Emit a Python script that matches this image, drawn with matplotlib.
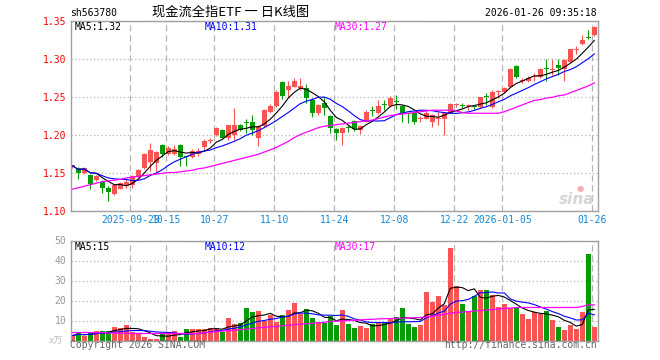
import matplotlib
matplotlib.use('Agg')
import matplotlib.pyplot as plt
import numpy as np
import pandas as pd

plt.rcParams['font.family'] = ['DejaVu Sans Mono']

# daily candles 2025-09-15 .. 2026-01-26
opens = [1.159, 1.157, 1.151, 1.148, 1.141, 1.138, 1.131, 1.123, 1.130, 1.133,
         1.134, 1.145, 1.157, 1.165, 1.163, 1.187, 1.176, 1.175, 1.187, 1.172,
         1.172, 1.175, 1.185, 1.192, 1.200, 1.207, 1.197, 1.200, 1.213, 1.217,
         1.217, 1.196, 1.212, 1.231, 1.238, 1.270, 1.260, 1.264, 1.262, 1.262,
         1.247, 1.229, 1.242, 1.226, 1.208, 1.203, 1.210, 1.219, 1.207, 1.218,
         1.233, 1.229, 1.241, 1.238, 1.245, 1.239, 1.229, 1.230, 1.222, 1.222,
         1.217, 1.221, 1.222, 1.230, 1.240, 1.240, 1.238, 1.238, 1.237, 1.251,
         1.237, 1.257, 1.257, 1.264, 1.291, 1.272, 1.271, 1.277, 1.277, 1.288,
         1.286, 1.293, 1.287, 1.297, 1.312, 1.320, 1.329, 1.332]
highs = [1.161, 1.158, 1.158, 1.149, 1.148, 1.141, 1.133, 1.136, 1.139, 1.142,
         1.148, 1.156, 1.177, 1.190, 1.179, 1.188, 1.186, 1.187, 1.188, 1.173,
         1.182, 1.183, 1.195, 1.197, 1.211, 1.208, 1.214, 1.236, 1.215, 1.221,
         1.227, 1.213, 1.235, 1.241, 1.260, 1.271, 1.272, 1.276, 1.276, 1.268,
         1.249, 1.241, 1.250, 1.227, 1.209, 1.211, 1.214, 1.220, 1.213, 1.233,
         1.238, 1.246, 1.247, 1.252, 1.253, 1.240, 1.230, 1.231, 1.226, 1.232,
         1.228, 1.231, 1.231, 1.242, 1.243, 1.243, 1.241, 1.240, 1.251, 1.256,
         1.259, 1.260, 1.263, 1.288, 1.292, 1.276, 1.278, 1.282, 1.288, 1.301,
         1.300, 1.300, 1.300, 1.313, 1.317, 1.332, 1.338, 1.344]
lows = [1.157, 1.142, 1.149, 1.129, 1.140, 1.124, 1.114, 1.121, 1.129, 1.131,
        1.131, 1.144, 1.156, 1.153, 1.151, 1.171, 1.174, 1.174, 1.160, 1.160,
        1.170, 1.173, 1.181, 1.190, 1.199, 1.196, 1.194, 1.194, 1.206, 1.203,
        1.200, 1.186, 1.211, 1.230, 1.237, 1.248, 1.250, 1.263, 1.259, 1.243,
        1.224, 1.227, 1.227, 1.203, 1.194, 1.187, 1.205, 1.206, 1.202, 1.217,
        1.225, 1.228, 1.233, 1.237, 1.234, 1.217, 1.216, 1.215, 1.217, 1.221,
        1.211, 1.213, 1.200, 1.229, 1.237, 1.236, 1.233, 1.234, 1.236, 1.240,
        1.236, 1.249, 1.256, 1.263, 1.276, 1.269, 1.270, 1.271, 1.276, 1.271,
        1.279, 1.279, 1.271, 1.296, 1.307, 1.319, 1.327, 1.331]
closes = [1.160, 1.150, 1.157, 1.136, 1.147, 1.131, 1.126, 1.135, 1.137, 1.139,
          1.146, 1.154, 1.176, 1.181, 1.178, 1.175, 1.183, 1.182, 1.172, 1.171,
          1.179, 1.180, 1.193, 1.193, 1.210, 1.197, 1.213, 1.213, 1.207, 1.216,
          1.207, 1.212, 1.233, 1.238, 1.257, 1.252, 1.265, 1.271, 1.265, 1.249,
          1.230, 1.240, 1.236, 1.209, 1.203, 1.210, 1.209, 1.208, 1.212, 1.231,
          1.232, 1.238, 1.240, 1.249, 1.244, 1.229, 1.228, 1.217, 1.223, 1.229,
          1.227, 1.223, 1.230, 1.241, 1.241, 1.238, 1.239, 1.237, 1.250, 1.250,
          1.257, 1.258, 1.262, 1.287, 1.277, 1.273, 1.276, 1.278, 1.287, 1.287,
          1.287, 1.288, 1.299, 1.313, 1.314, 1.326, 1.328, 1.343]
ma30 = [1.129, 1.131, 1.133, 1.135, 1.137, 1.139, 1.140, 1.141, 1.142, 1.144,
        1.145, 1.146, 1.147, 1.148, 1.149, 1.150, 1.151, 1.151, 1.152, 1.153,
        1.154, 1.156, 1.157, 1.159, 1.161, 1.163, 1.165, 1.167, 1.169, 1.171,
        1.173, 1.175, 1.178, 1.181, 1.184, 1.188, 1.192, 1.197, 1.201, 1.204,
        1.207, 1.210, 1.212, 1.213, 1.214, 1.215, 1.216, 1.217, 1.218, 1.219,
        1.220, 1.222, 1.224, 1.226, 1.227, 1.228, 1.229, 1.230, 1.231, 1.232,
        1.233, 1.233, 1.233, 1.233, 1.232, 1.230, 1.229, 1.229, 1.229, 1.229,
        1.229, 1.229, 1.231, 1.234, 1.237, 1.240, 1.243, 1.246, 1.247, 1.249,
        1.250, 1.252, 1.253, 1.256, 1.259, 1.262, 1.265, 1.269]

volumes = [2.5, 3.7, 2.5, 3.7, 4.8, 4.8, 4.8, 6.8, 6.2, 7.8,
           4.5, 4.0, 2.0, 0.8, 0.8, 3.7, 3.5, 4.8, 2.0, 5.7,
           5.7, 5.7, 5.7, 6.2, 6.2, 4.5, 11.2, 8.2, 8.7, 16.2,
           14.2, 14.8, 9.8, 12.8, 9.2, 12.8, 15.3, 18.7, 13.3, 15.7,
           11.2, 9.2, 8.7, 12.5, 7.8, 15.3, 8.3, 6.2, 7.3, 6.2,
           8.3, 9.2, 8.7, 11.2, 11.8, 16.5, 8.3, 6.8, 7.8, 24.5,
           19.5, 22.3, 17.8, 46.5, 27.3, 18.3, 14.8, 22.3, 25.3, 25.3,
           22.8, 17.0, 18.3, 16.5, 16.2, 13.3, 10.8, 14.2, 13.3, 14.8,
           10.3, 6.8, 5.3, 7.8, 5.8, 14.2, 43.3, 6.8]
vol_ma30 = [4.0, 4.0, 4.0, 4.0, 3.9, 3.9, 3.8, 3.7, 3.6, 3.6,
            3.5, 3.5, 3.5, 3.5, 3.5, 3.5, 3.5, 3.5, 3.5, 3.5,
            3.5, 3.5, 3.8, 4.2, 4.5, 4.7, 4.9, 5.1, 5.4, 5.7,
            6.0, 6.3, 6.6, 6.8, 7.1, 7.4, 7.6, 7.9, 8.2, 8.4,
            8.6, 8.8, 9.1, 9.5, 9.7, 9.8, 10.0, 10.1, 10.3, 10.5,
            10.6, 10.8, 10.9, 11.0, 11.1, 11.2, 11.3, 11.4, 11.5, 11.8,
            12.2, 12.6, 13.1, 13.7, 14.0, 14.2, 14.5, 14.7, 15.0, 15.2,
            15.5, 15.7, 16.0, 16.2, 16.5, 16.5, 16.5, 16.5, 16.5, 16.5,
            16.5, 16.5, 16.5, 16.5, 16.5, 17.0, 17.8, 17.8]

tick_labels = ['2025-09-29', '10-15', '10-27', '11-10', '11-24',
               '12-08', '12-22', '2026-01-05', '01-26']
tick_idx = [10, 16, 24, 34, 44, 54, 64, 72, 87]
price_ticks = [1.10, 1.15, 1.20, 1.25, 1.30, 1.35]
vol_ticks = [10, 20, 30, 40, 50]

RED, GREEN = '#f85454', '#079c07'
GRID = '#b4b4b4'
FRAME = '#a0a0a0'

o, h, l, c = (np.array(a) for a in (opens, highs, lows, closes))
x = np.arange(len(c))
col = np.where(c >= o, RED, GREEN)

ma5 = pd.Series(closes).rolling(5, min_periods=1).mean()
ma10 = pd.Series(closes).rolling(10, min_periods=1).mean()
vma5 = pd.Series(volumes).rolling(5, min_periods=1).mean()
vma10 = pd.Series(volumes).rolling(10, min_periods=1).mean()

W, H = 660, 360
fig = plt.figure(figsize=(W / 100, H / 100), dpi=100)


def box(x0, y0, x1, y1):
    return [x0 / W, 1 - y1 / H, (x1 - x0) / W, (y1 - y0) / H]


def ftext(px, py, s, **kw):
    fig.text(px / W, 1 - py / H, s, va='center', **kw)


ax = fig.add_axes(box(70.5, 21.3, 597.5, 211.3))
axv = fig.add_axes(box(70.5, 240.5, 597.5, 340.5), sharex=ax)

# candles
ax.vlines(x, l, h, colors=col, lw=0.8)
ax.bar(x, np.maximum(np.abs(c - o), 0.0013), bottom=np.minimum(o, c),
       width=0.75, color=col, linewidth=0)
ax.plot(x, ma5, color='black', lw=0.8)
ax.plot(x, ma10, color='#0000ff', lw=0.8)
ax.plot(x, ma30, color='#ff00ff', lw=0.9)

# volume
axv.bar(x, volumes, width=0.8, color=col, linewidth=0)
axv.plot(x, vma5, color='black', lw=0.8)
axv.plot(x, vma10, color='#0000ff', lw=0.8)
axv.plot(x, vol_ma30, color='#ff00ff', lw=0.9)

ax.set_xlim((70.5 - 72.3) / 6, (597.5 - 72.3) / 6)
ax.set_ylim(1.10, 1.35)
axv.set_ylim(0, 50)

ax.set_yticks(price_ticks)
ax.set_yticklabels([f'{v:.2f}' for v in price_ticks], color='red', fontsize=7)
axv.set_yticks(vol_ticks)
axv.set_yticklabels([str(v) for v in vol_ticks], color='#999999', fontsize=7)
ax.set_xticks([i - 1 / 3 for i in tick_idx])
ax.set_xticklabels(tick_labels, color='#1188d8', fontsize=7)
axv.tick_params(labelbottom=False)

for a in (ax, axv):
    a.tick_params(length=0, pad=3)
    a.grid(axis='x', color=GRID, lw=0.9, linestyle=(0, (5, 3)))
    a.grid(axis='y', color=GRID, lw=0.9, linestyle=(0, (1, 2)))
    a.set_axisbelow(True)
    for s in a.spines.values():
        s.set_color(FRAME)
        s.set_linewidth(1.0)

# header
ftext(70, 12.5, 'sh563780', fontsize=7, color='black')
ftext(231, 12.5, '现金流全指ETF 一 日K线图', fontsize=9.5, ha='center',
      family=['Noto Sans CJK SC', 'DejaVu Sans'])
ftext(597, 12.5, '2026-01-26 09:35:18', fontsize=7, ha='right')

ftext(75, 26.5, 'MA5:1.32', fontsize=7, color='black')
ftext(205, 26.5, 'MA10:1.31', fontsize=7, color='#0000ff')
ftext(335, 26.5, 'MA30:1.27', fontsize=7, color='#ff00ff')
ftext(75, 246.5, 'MA5:15', fontsize=7, color='black')
ftext(205, 246.5, 'MA10:12', fontsize=7, color='#0000ff')
ftext(335, 246.5, 'MA30:17', fontsize=7, color='#ff00ff')

ftext(70, 345.5, 'Copyright 2026 SINA.COM', fontsize=7, color='#666666')
ftext(597, 345.5, 'http://finance.sina.com.cn', fontsize=7, color='#666666', ha='right')
ftext(49, 341, 'x万', fontsize=6.5, color='#bbbbbb',
      family=['DejaVu Sans Mono', 'Noto Sans CJK SC'])

# sina watermark
ftext(594, 199, 'sina', fontsize=11, color='#d6d6d6', ha='right',
      fontweight='bold', style='italic', family='DejaVu Sans')
ftext(580, 188, '●', fontsize=6, color='#f4b0b0', ha='center', family='DejaVu Sans')

fig.savefig('out.png', dpi=100)
